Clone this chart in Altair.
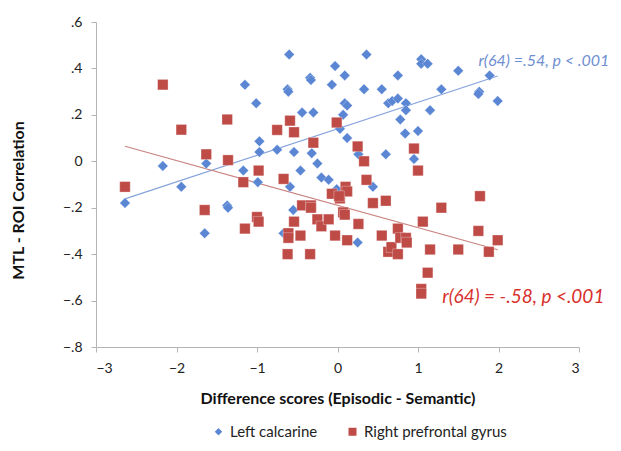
import altair as alt
import pandas as pd

series_names = ["Left calcarine", "Right prefrontal gyrus"]

# Left calcarine (blue diamonds)
blue_x = [-2.64, -2.17, -1.94, -1.63, -1.65, -1.37, -1.36, -1.15, -1.17, -1.01,
          -0.97, -0.97, -0.99, -0.75, -0.60, -0.62, -0.61, -0.59, -0.54, -0.55,
          -0.67, -0.46, -0.44, -0.34, -0.33, -0.30, -0.32, -0.25, -0.20, -0.11,
          -0.07, -0.03, -0.01, 0.07, 0.03, 0.09, 0.09, 0.12, 0.12, 0.26,
          0.25, 0.33, 0.36, 0.44, 0.55, 0.60, 0.63, 0.68, 0.75, 0.75,
          0.78, 0.85, 0.85, 0.84, 0.95, 1.00, 1.04, 1.04, 1.12, 1.15,
          1.29, 1.50, 1.76, 1.75, 1.89, 1.99]
blue_y = [-0.18, -0.02, -0.11, -0.01, -0.31, -0.19, -0.20, 0.33, -0.04, 0.25,
          0.086, 0.04, -0.09, 0.05, 0.46, 0.31, 0.30, -0.11, 0.04, -0.21,
          -0.31, -0.04, 0.21, 0.36, 0.35, 0.21, 0.035, -0.01, -0.07, -0.08,
          0.33, 0.41, -0.12, 0.20, 0.14, 0.37, 0.25, 0.24, 0.10, 0.03,
          -0.35, 0.31, 0.46, -0.11, 0.31, 0.03, 0.25, 0.26, 0.37, 0.27,
          0.18, 0.25, 0.22, 0.12, 0.01, 0.13, 0.44, 0.42, 0.42, 0.22,
          0.31, 0.39, 0.30, 0.29, 0.37, 0.26]

# Right prefrontal gyrus (red squares)
red_x = [-2.64, -2.17, -1.94, -1.63, -1.65, -1.37, -1.36, -1.17, -1.15, -0.98,
         -1.00, -0.98, -0.75, -0.67, -0.59, -0.54, -0.61, -0.61, -0.62, -0.54,
         -0.46, -0.44, -0.33, -0.33, -0.30, -0.34, -0.25, -0.20, -0.11, -0.07,
         -0.03, -0.01, 0.03, 0.10, 0.12, 0.07, 0.09, 0.12, 0.25, 0.26,
         0.33, 0.36, 0.44, 0.55, 0.60, 0.63, 0.67, 0.75, 0.75, 0.78,
         0.85, 0.86, 0.95, 1.00, 1.04, 1.04, 1.06, 1.12, 1.15, 1.29,
         1.50, 1.77, 1.75, 1.88, 1.99, 0.02]
red_y = [-0.11, 0.33, 0.136, 0.03, -0.21, 0.18, 0.005, -0.09, -0.29, -0.04,
         -0.24, -0.26, 0.135, -0.076, 0.175, 0.125, -0.31, -0.33, -0.40, -0.26,
         -0.32, -0.19, -0.19, -0.20, 0.08, -0.40, -0.25, -0.28, -0.25, -0.14,
         -0.32, 0.167, -0.16, -0.11, -0.13, -0.22, -0.23, -0.34, 0.064, -0.27,
         0.0, -0.08, -0.18, -0.32, -0.17, -0.39, -0.37, -0.29, -0.40, -0.33,
         -0.33, -0.35, 0.055, -0.04, -0.55, -0.57, -0.26, -0.48, -0.38, -0.20,
         -0.38, -0.15, -0.30, -0.39, -0.34, -0.15]

note_text = ["r(64) =.54, p < .001", "r(64) = -.58, p <.001"]
note_x = [1.75, 1.30]
note_y = [0.43, -0.585]
note_color = ["#6f8fd3", "#d8312e"]
note_size = [16, 19]

x_ticks = [-3, -2, -1, 0, 1, 2, 3]
y_ticks = [-0.8, -0.6, -0.4, -0.2, 0, 0.2, 0.4, 0.6]

points = pd.DataFrame({
    "x": blue_x + red_x,
    "y": blue_y + red_y,
    "series": [series_names[0]] * len(blue_x) + [series_names[1]] * len(red_x),
})
notes = pd.DataFrame({"text": note_text, "x": note_x, "y": note_y,
                      "color": note_color, "size": note_size})

FONT = "Lato"

xscale = alt.Scale(domain=[-3, 3], nice=False)
yscale = alt.Scale(domain=[-0.8, 0.6], nice=False)

xenc = alt.X("x:Q", scale=xscale,
             axis=alt.Axis(values=x_ticks, format="d",
                           title="Difference scores (Episodic - Semantic)",
                           titlePadding=15, labelPadding=9))
yenc = alt.Y("y:Q", scale=yscale,
             axis=alt.Axis(values=y_ticks,
                           labelExpr="datum.value == 0 ? '0' : replace(format(datum.value, '.1f'), '0.', '.')",
                           title="MTL - ROI Correlation",
                           titleX=-70, titleY=178, labelPadding=9))

legend = alt.Legend(title=None, orient="none", direction="horizontal",
                    legendX=115, legendY=402, symbolSize=90,
                    labelFontSize=15, labelFont=FONT, labelColor="#222222",
                    columnPadding=26, symbolOpacity=1)

pts = alt.Chart(points).mark_point(filled=True, opacity=1, size=110,
                                   stroke="#ffffff", strokeWidth=0.3).encode(
    x=xenc,
    y=yenc,
    color=alt.Color("series:N",
                    scale=alt.Scale(domain=series_names, range=["#5a86d4", "#bf4b47"]),
                    legend=legend),
    shape=alt.Shape("series:N",
                    scale=alt.Scale(domain=series_names, range=["diamond", "square"]),
                    legend=legend),
)

blue_line = alt.Chart(points).transform_filter(
    alt.datum.series == series_names[0]
).transform_regression("x", "y").mark_line(color="#86a3dc", strokeWidth=1.2).encode(
    x="x:Q", y="y:Q")

red_line = alt.Chart(points).transform_filter(
    alt.datum.series == series_names[1]
).transform_regression("x", "y").mark_line(color="#c98480", strokeWidth=1.2).encode(
    x="x:Q", y="y:Q")

text = alt.Chart(notes).mark_text(align="left", baseline="middle", font=FONT,
                                  fontStyle="italic").encode(
    x="x:Q", y="y:Q", text="text:N",
    color=alt.Color("color:N", scale=None),
    size=alt.Size("size:Q", scale=None),
)

chart = alt.layer(blue_line, red_line, pts, text).properties(
    width=483, height=325,
    autosize=alt.AutoSizeParams(type="none"),
    padding={"left": 88, "top": 14, "right": 33, "bottom": 94},
).configure_view(stroke=None).configure_axis(
    grid=False, domainColor="#b5b5b5", tickColor="#b5b5b5", tickSize=5,
    labelFont=FONT, labelFontSize=14, labelColor="#222222",
    titleFont=FONT, titleFontSize=16, titleFontWeight="bold", titleColor="#111111",
)

chart.save("out.html", embed_options={"renderer": "svg", "actions": False})
